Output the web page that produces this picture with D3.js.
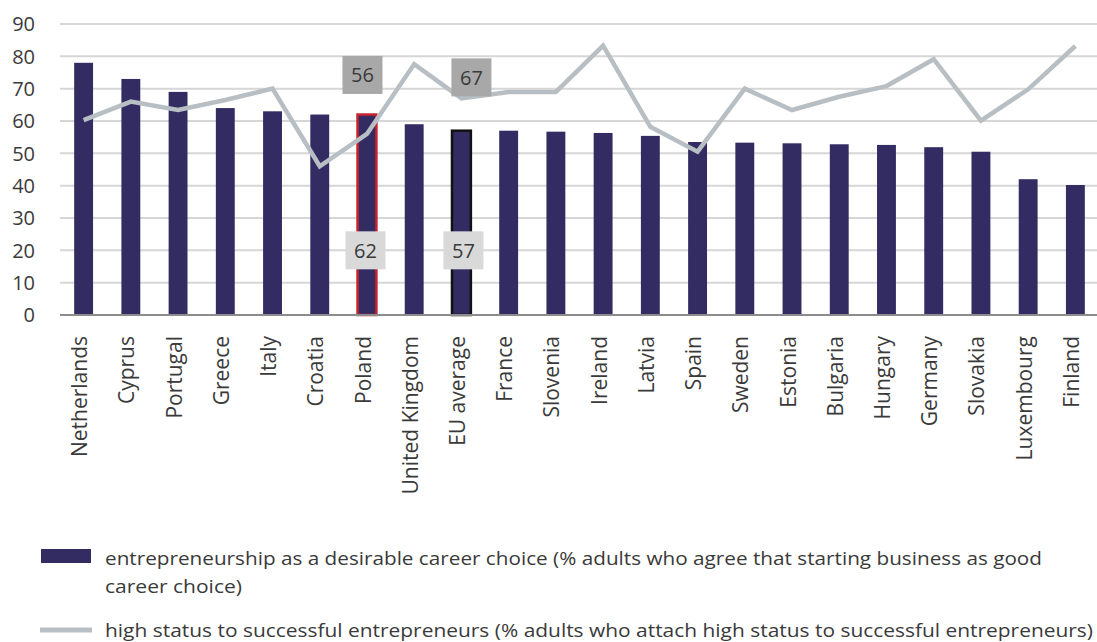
<!DOCTYPE html>
<html>
<head>
<meta charset="utf-8">
<script src="https://cdn.jsdelivr.net/npm/d3@7/dist/d3.min.js"></script>
<style>
  html, body { margin: 0; padding: 0; background: #ffffff; }
  svg { display: block; }
  text { font-family: "Open Sans", "DejaVu Sans", sans-serif; }
</style>
</head>
<body>
<svg id="chart" width="1097" height="642"></svg>
<script>
// Countries, ordered by share of adults who see entrepreneurship as a good career choice
const countries = ["Netherlands", "Cyprus", "Portugal", "Greece", "Italy", "Croatia", "Poland",
  "United Kingdom", "EU average", "France", "Slovenia", "Ireland", "Latvia", "Spain", "Sweden",
  "Estonia", "Bulgaria", "Hungary", "Germany", "Slovakia", "Luxembourg", "Finland"];

// entrepreneurship as a desirable career choice (%)
const careerChoice = [78, 73, 69, 64, 63, 62, 62, 59, 57, 57, 56.7, 56.3, 55.4, 53.5, 53.3,
  53.1, 52.8, 52.6, 51.9, 50.5, 42, 40.2];

// high status to successful entrepreneurs (%)
const highStatus = [60.3, 66, 63.4, 66.5, 70, 46, 56, 77.6, 67, 69, 69, 83.3, 58.2, 50.5, 70,
  63.4, 67.5, 70.8, 79.1, 60.1, 69.8, 83.2];

const yTicks = [0, 10, 20, 30, 40, 50, 60, 70, 80, 90];

const legendCareer = ["entrepreneurship as a desirable career choice (% adults who agree that starting business as good",
  "career choice)"];
const legendStatus = "high status to successful entrepreneurs (% adults who attach high status to successful entrepreneurs)";

const BAR = "#332c63", LINE = "#b7bfc4", GRID = "#d6d6d6", TEXT = "#3a3a3a";

const svg = d3.select("#chart");

const x = d3.scaleBand().domain(countries).range([60, 1099]).paddingInner(0.6).paddingOuter(0.3);
const y = d3.scaleLinear().domain([0, 90]).range([315, 24]);

// horizontal gridlines
svg.append("g").selectAll("line").data(yTicks.filter(d => d > 0)).join("line")
  .attr("x1", 60).attr("x2", 1097)
  .attr("y1", d => y(d)).attr("y2", d => y(d))
  .attr("stroke", GRID).attr("stroke-width", 2);

// y tick labels
svg.append("g").selectAll("text").data(yTicks).join("text")
  .attr("x", 35).attr("y", d => y(d)).attr("dy", "0.36em")
  .attr("text-anchor", "end").attr("font-size", 20).attr("fill", TEXT)
  .text(d => d);

// bars
svg.append("g").selectAll("rect").data(countries).join("rect")
  .attr("x", d => x(d)).attr("width", x.bandwidth())
  .attr("y", (d, i) => y(careerChoice[i]))
  .attr("height", (d, i) => y(0) - y(careerChoice[i]))
  .attr("fill", BAR)
  .attr("stroke", d => d === "Poland" ? "#c8232c" : d === "EU average" ? "#111111" : "none")
  .attr("stroke-width", 2.5);

// baseline
svg.append("line").attr("x1", 60).attr("x2", 1097).attr("y1", y(0)).attr("y2", y(0))
  .attr("stroke", "#8c8c8c").attr("stroke-width", 2);

// status line
const line = d3.line()
  .x((d, i) => x(countries[i]) + x.bandwidth() / 2)
  .y(d => y(d));
svg.append("path").datum(highStatus)
  .attr("d", line).attr("fill", "none")
  .attr("stroke", LINE).attr("stroke-width", 4.5);

// x category labels
svg.append("g").selectAll("text").data(countries).join("text")
  .attr("transform", d => `translate(${x(d) + x.bandwidth() / 2 - 4},336) rotate(-90)`)
  .attr("dy", "0.36em").attr("text-anchor", "end")
  .attr("font-size", 21).attr("fill", TEXT)
  .text(d => d);

// value callouts for Poland and the EU average
const callouts = [
  { name: "Poland", value: highStatus[6], cy: y(highStatus[6]) - 59, dx: -4.5, fill: "#a8a8a8" },
  { name: "Poland", value: careerChoice[6], cy: y(20), dx: -1.5, fill: "#d9d9d9" },
  { name: "EU average", value: highStatus[8], cy: y(highStatus[8]) - 21, dx: 10, fill: "#a8a8a8" },
  { name: "EU average", value: careerChoice[8], cy: y(20), dx: 2, fill: "#d9d9d9" }
];
const cg = svg.append("g").selectAll("g").data(callouts).join("g")
  .attr("transform", d => `translate(${x(d.name) + x.bandwidth() / 2 + d.dx},${d.cy})`);
cg.append("rect").attr("x", -20).attr("y", -19).attr("width", 40).attr("height", 38)
  .attr("fill", d => d.fill);
cg.append("text").attr("text-anchor", "middle").attr("dy", "0.36em")
  .attr("font-size", 20).attr("fill", TEXT)
  .text(d => Math.round(d.value));

// legend
const lg = svg.append("g");
lg.append("rect").attr("x", 41).attr("y", 549).attr("width", 50).attr("height", 14).attr("fill", BAR);
lg.append("text").attr("x", 105).attr("y", 565).attr("font-size", 19).attr("fill", TEXT)
  .attr("textLength", 937).attr("lengthAdjust", "spacingAndGlyphs").text(legendCareer[0]);
lg.append("text").attr("x", 105).attr("y", 593).attr("font-size", 19).attr("fill", TEXT)
  .attr("textLength", 137).attr("lengthAdjust", "spacingAndGlyphs").text(legendCareer[1]);
lg.append("line").attr("x1", 40).attr("x2", 92).attr("y1", 630).attr("y2", 630)
  .attr("stroke", LINE).attr("stroke-width", 5);
lg.append("text").attr("x", 105).attr("y", 637).attr("font-size", 19).attr("fill", TEXT)
  .attr("textLength", 988).attr("lengthAdjust", "spacingAndGlyphs").text(legendStatus);
</script>
</body>
</html>
